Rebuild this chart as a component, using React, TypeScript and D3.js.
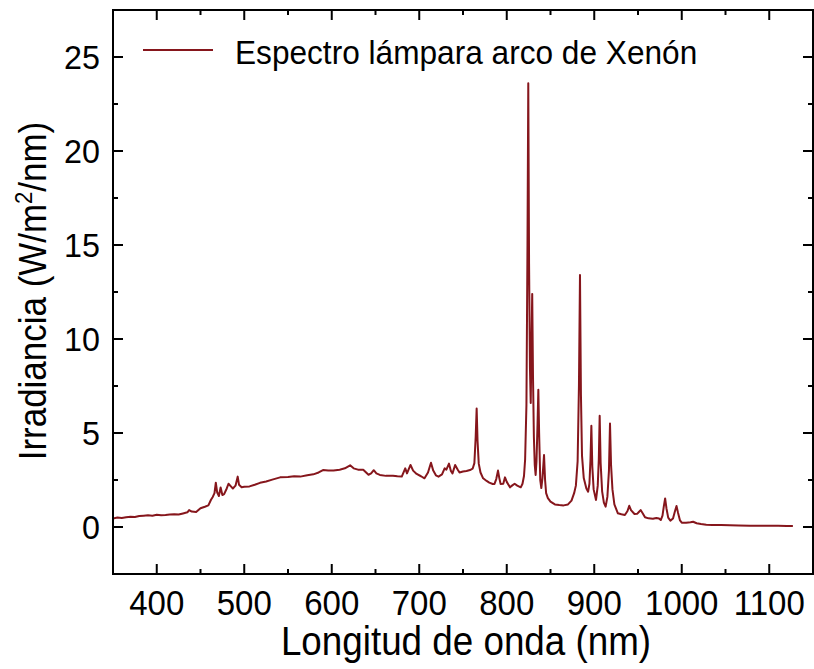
import React from "react";
import * as d3 from "d3";

const wavelengths: number[] = [
  350, 355, 360, 365, 370, 375, 380, 385, 390, 395, 400, 405, 410, 415, 420, 425, 430, 435, 437, 440,
  445, 450, 455, 459, 462, 464, 466, 467.5, 469, 471, 473, 475, 477, 480, 482, 485, 487, 490, 492.5, 494,
  497, 500, 506, 512, 518, 525, 532, 541, 550, 557, 564, 572, 579, 585, 590, 596, 602, 609, 615, 621,
  625, 630, 636, 642, 645, 648, 651, 655, 662, 670, 675, 680, 684, 686, 690, 693, 697, 702, 706, 710,
  713.4, 716, 719, 722, 726, 729, 731, 734, 736, 738, 741, 744, 746, 750, 754, 758, 761, 763, 764.5, 765.6,
  766.6, 768, 770, 773, 777, 780, 784, 786, 788, 790, 791.5, 793, 796, 798, 800, 803.7, 806, 809, 812, 816,
  818, 819.7, 821, 822.5, 823.7, 824.6, 825.5, 826.5, 827.4, 828.2, 829.1, 830, 831, 832, 833, 834, 835.2, 836.1, 837, 838.3,
  839.5, 840.8, 842.6, 843.8, 845, 847, 850, 855, 860, 865, 870, 874, 877, 879, 881, 882.5, 883.7, 884.8, 886, 888,
  891, 893, 894.5, 895.7, 896.7, 897.8, 899.3, 902, 904, 905.2, 906.2, 907.3, 909, 911, 913, 915, 916.8, 918, 919.2, 920.8,
  923, 927, 931, 935, 938, 940, 942, 946, 949, 951, 953, 955.5, 958, 962, 967, 971, 974, 976, 978, 979.5,
  981, 982.5, 984.5, 987, 990, 992, 994, 995.8, 998, 1000, 1005, 1010, 1013, 1017, 1022, 1028, 1035, 1045, 1055, 1065,
  1078, 1090, 1100, 1110, 1120, 1127,
];

const irradiance: number[] = [
  0.45, 0.5, 0.48, 0.52, 0.55, 0.53, 0.58, 0.6, 0.62, 0.6, 0.65, 0.63, 0.64, 0.66, 0.68, 0.66, 0.72, 0.78, 0.9, 0.82,
  0.8, 1.0, 1.08, 1.15, 1.45, 1.6, 1.8, 2.36, 1.85, 1.65, 2.1, 1.7, 1.75, 2.05, 2.3, 2.15, 2.05, 2.2, 2.68, 2.25,
  2.12, 2.14, 2.16, 2.25, 2.35, 2.42, 2.52, 2.64, 2.66, 2.7, 2.68, 2.75, 2.8, 2.9, 3.03, 3.0, 3.0, 3.05, 3.12, 3.28,
  3.12, 3.05, 3.05, 2.78, 2.85, 3.02, 2.85, 2.77, 2.72, 2.73, 2.7, 2.68, 3.12, 2.85, 3.3, 3.0, 2.82, 2.7, 2.59, 2.9,
  3.42, 3.0, 2.75, 2.68, 2.8, 3.12, 3.05, 3.37, 3.0, 2.85, 3.3, 3.05, 2.9, 2.95, 2.98, 3.03, 3.1, 3.4, 4.8, 6.3,
  4.6, 3.37, 2.9, 2.59, 2.45, 2.36, 2.29, 2.29, 2.55, 3.0, 2.6, 2.29, 2.3, 2.64, 2.4, 2.11, 2.2, 2.3, 2.2, 2.11,
  2.3, 2.71, 3.6, 6.5, 15, 23.6, 14, 8.5, 6.6, 9.5, 12.4, 8, 4.8, 3.3, 2.77, 3.5, 5.5, 7.3, 5.0, 2.5,
  2.07, 2.6, 3.83, 2.5, 1.8, 1.54, 1.35, 1.2, 1.17, 1.15, 1.2, 1.4, 1.8, 2.2, 3.5, 7.5, 13.4, 7.0, 3.8, 2.6,
  2.05, 1.88, 2.3, 3.6, 5.39, 3.2, 2.0, 1.44, 2.2, 3.6, 5.92, 3.4, 1.9, 1.3, 1.08, 1.6, 3.0, 5.51, 3.3, 2.0,
  1.2, 0.73, 0.68, 0.64, 0.85, 1.13, 0.9, 0.69, 0.7, 0.8, 0.9, 0.72, 0.52, 0.46, 0.44, 0.48, 0.45, 0.37, 0.6, 1.1,
  1.52, 1.0, 0.5, 0.34, 0.45, 0.8, 1.12, 0.75, 0.35, 0.23, 0.22, 0.25, 0.28, 0.2, 0.16, 0.12, 0.11, 0.1, 0.09, 0.08,
  0.07, 0.07, 0.06, 0.06, 0.05, 0.05,
];

const xTicks: number[] = [400, 500, 600, 700, 800, 900, 1000, 1100];
const xMinorTicks: number[] = [350, 450, 550, 650, 750, 850, 950, 1050, 1150];
const yTicks: number[] = [0, 5, 10, 15, 20, 25];
const yMinorTicks: number[] = [-2.5, 2.5, 7.5, 12.5, 17.5, 22.5, 27.5];

const legendLabel = "Espectro lámpara arco de Xenón";
const xTitle = "Longitud de onda (nm)";

const W = 814;
const H = 669;
const left = 113;
const right = 813;
const top = 10;
const bottom = 574;
const lineColor = "#86161c";
const font = "'Liberation Sans', Arial, Helvetica, sans-serif";

export default function App() {
  const x = d3.scaleLinear().domain([350, 1150]).range([left, right]);
  const y = d3.scaleLinear().domain([-2.5, 27.5]).range([bottom, top]);
  const pts = wavelengths.map((w, i) => [w, irradiance[i]] as [number, number]);
  const line = d3
    .line<[number, number]>()
    .x((d) => x(d[0]))
    .y((d) => y(d[1]));
  const majorLen = 10;
  const minorLen = 5;

  return (
    <svg
      width={W}
      height={H}
      style={{ position: "absolute", left: 0, top: 0, background: "#fff" }}
      fontFamily={font}
    >
      <rect x={0} y={0} width={W} height={H} fill="#fff" />
      <defs>
        <clipPath id="plotclip">
          <rect x={left} y={top} width={right - left} height={bottom - top} />
        </clipPath>
      </defs>
      <path
        d={line(pts) ?? ""}
        fill="none"
        stroke={lineColor}
        strokeWidth={2}
        strokeLinejoin="round"
        clipPath="url(#plotclip)"
      />
      {/* frame */}
      <rect
        x={left}
        y={top}
        width={right - left}
        height={bottom - top}
        fill="none"
        stroke="#000"
        strokeWidth={2}
      />
      {/* x ticks */}
      {xTicks.map((t) => (
        <g key={"xt" + t}>
          <line x1={x(t)} x2={x(t)} y1={bottom} y2={bottom - majorLen} stroke="#000" strokeWidth={2} />
          <line x1={x(t)} x2={x(t)} y1={top} y2={top + majorLen} stroke="#000" strokeWidth={2} />
          <text
            transform={`translate(${x(t)}, 615) scale(0.93, 1)`}
            textAnchor="middle"
            fontSize={35.5}
            fill="#000"
          >
            {t}
          </text>
        </g>
      ))}
      {xMinorTicks.map((t) => (
        <g key={"xm" + t}>
          <line x1={x(t)} x2={x(t)} y1={bottom} y2={bottom - minorLen} stroke="#000" strokeWidth={2} />
          <line x1={x(t)} x2={x(t)} y1={top} y2={top + minorLen} stroke="#000" strokeWidth={2} />
        </g>
      ))}
      {/* y ticks */}
      {yTicks.map((t) => (
        <g key={"yt" + t}>
          <line x1={left} x2={left + majorLen} y1={y(t)} y2={y(t)} stroke="#000" strokeWidth={2} />
          <line x1={right} x2={right - majorLen} y1={y(t)} y2={y(t)} stroke="#000" strokeWidth={2} />
          <text
            transform={`translate(100, ${y(t) + 12}) scale(0.95, 1)`}
            textAnchor="end"
            fontSize={34}
            fill="#000"
          >
            {t}
          </text>
        </g>
      ))}
      {yMinorTicks.map((t) => (
        <g key={"ym" + t}>
          <line x1={left} x2={left + minorLen} y1={y(t)} y2={y(t)} stroke="#000" strokeWidth={2} />
          <line x1={right} x2={right - minorLen} y1={y(t)} y2={y(t)} stroke="#000" strokeWidth={2} />
        </g>
      ))}
      {/* axis titles */}
      <text
        transform={`translate(${(left + right) / 2 + 3}, 655) scale(0.92, 1)`}
        textAnchor="middle"
        fontSize={40}
        fill="#000"
      >
        {xTitle}
      </text>
      <text
        transform={`translate(46, ${(top + bottom) / 2 - 1}) rotate(-90) scale(0.92, 1)`}
        textAnchor="middle"
        fontSize={38}
        fill="#000"
      >
        Irradiancia (W/m
        <tspan baselineShift="super" fontSize={24}>
          2
        </tspan>
        /nm)
      </text>
      {/* legend */}
      <line x1={143} x2={213} y1={50} y2={50} stroke={lineColor} strokeWidth={2} />
      <text transform="translate(235, 64) scale(0.93, 1)" fontSize={34} fill="#000">
        {legendLabel}
      </text>
    </svg>
  );
}
